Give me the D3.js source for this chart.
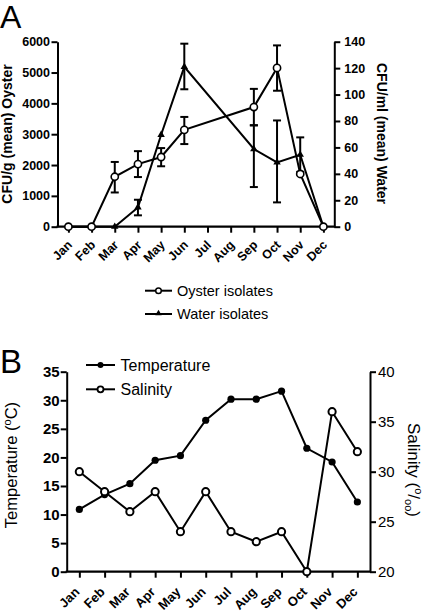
<!DOCTYPE html>
<html><head><meta charset="utf-8">
<script src="https://cdn.jsdelivr.net/npm/d3@7"></script>
<style>
body{margin:0;background:#fff}
svg{display:block}
text{font-family:"Liberation Sans",Arial,Helvetica,sans-serif;fill:#000}
</style>
</head><body>
<svg id="c" width="425" height="614"></svg>
<script>
// ---------- data ----------
const months = ["Jan","Feb","Mar","Apr","May","Jun","Jul","Aug","Sep","Oct","Nov","Dec"];
const sampleMonths = ["Jan","Feb","Mar","Apr","May","Jun","Sep","Oct","Nov","Dec"];
const oysterMean = [0,0,1620,2030,2260,3140,3880,5150,1710,0];
const oysterLow  = [null,null,1110,1610,1960,2680,3290,4410,null,null];
const oysterHigh = [null,null,2100,2450,2550,3560,4470,5880,null,null];
const waterMean  = [0,0,0,14.6,69.6,121,58.8,48.7,54.5,0];
const waterLow   = [null,null,null,8.6,null,104,30,18.4,41.5,null];
const waterHigh  = [null,null,null,20.4,null,138.5,76.7,80.4,67.6,null];
const oysterTicks = [0,1000,2000,3000,4000,5000,6000];
const waterTicks = [0,20,40,60,80,100,120,140];

const temperature = [10.9,13.5,15.4,19.5,20.3,26.5,30.2,30.2,31.6,21.6,19.2,12.2];
const salinity    = [30,28,26,28,24,28,24,23,24,20,36,32];
const tempTicks = [0,5,10,15,20,25,30,35];
const salTicks = [20,25,30,35,40];

const svg = d3.select("#c");

// ---------- Panel A ----------
const A = {l:57.5, r:334.3, t:41.7, b:226.7};
const xA = d3.scalePoint().domain(months).range([A.l, A.r]).padding(0.47);
const yO = d3.scaleLinear().domain([0,6000]).range([A.b, A.t]);
const yW = d3.scaleLinear().domain([0,140]).range([A.b, A.t]);

svg.append("text").attr("x",0).attr("y",28).attr("font-size",32).text("A");

function styleAxis(g, size, weight){
  g.selectAll("path.domain").attr("stroke","#000").attr("stroke-width",2);
  g.selectAll(".tick line").attr("stroke","#000").attr("stroke-width",2);
  g.selectAll(".tick text").attr("font-size",size).attr("font-weight",weight)
   .attr("font-family","'Liberation Sans',Arial,Helvetica,sans-serif").attr("fill","#000");
}

const gAL = svg.append("g").attr("transform",`translate(${A.l},0)`)
  .call(d3.axisLeft(yO).tickValues(oysterTicks).tickSize(6).tickSizeOuter(0).tickPadding(1.5).tickFormat(d3.format("d")));
styleAxis(gAL, 12.5, "bold");
const gAR = svg.append("g").attr("transform",`translate(${A.r},0)`)
  .call(d3.axisRight(yW).tickValues(waterTicks).tickSize(6).tickSizeOuter(0).tickPadding(4).tickFormat(d3.format("d")));
styleAxis(gAR, 12.5, "bold");

// x axis A
const gAX = svg.append("g").attr("transform",`translate(0,${A.b})`)
  .call(d3.axisBottom(xA).tickSize(6).tickSizeOuter(0).tickFormat(""));
gAX.select("path.domain").remove();
gAX.selectAll(".tick line").attr("stroke","#000").attr("stroke-width",2);
svg.append("line").attr("x1",A.l-1).attr("x2",A.r+1).attr("y1",A.b).attr("y2",A.b).attr("stroke","#000").attr("stroke-width",2.2);
svg.append("g").selectAll("text").data(months).join("text")
  .attr("transform",d=>`translate(${xA(d)+4.5},${A.b+19}) rotate(-45)`)
  .attr("text-anchor","end").attr("font-size",12.5).attr("font-weight","bold").text(d=>d);

// titles A
svg.append("text").attr("transform",`translate(12,134) rotate(-90)`).attr("text-anchor","middle")
  .attr("font-size",14).attr("font-weight","bold").text("CFU/g (mean) Oyster");
svg.append("text").attr("transform",`translate(377,133.5) rotate(90)`).attr("text-anchor","middle")
  .attr("font-size",14).attr("font-weight","bold").text("CFU/ml (mean) Water");

// error bars
function errBars(lows, highs, scale){
  const g = svg.append("g").attr("stroke","#000").attr("stroke-width",2);
  sampleMonths.forEach((m,i)=>{
    if(lows[i]==null) return;
    const x = xA(m);
    g.append("line").attr("x1",x).attr("x2",x).attr("y1",scale(lows[i])).attr("y2",scale(highs[i]));
    g.append("line").attr("x1",x-4).attr("x2",x+4).attr("y1",scale(lows[i])).attr("y2",scale(lows[i]));
    g.append("line").attr("x1",x-4).attr("x2",x+4).attr("y1",scale(highs[i])).attr("y2",scale(highs[i]));
  });
}
errBars(oysterLow, oysterHigh, yO);
errBars(waterLow, waterHigh, yW);

const oysterPts = sampleMonths.map((m,i)=>[xA(m), yO(oysterMean[i])]);
const waterPts = sampleMonths.map((m,i)=>[xA(m), yW(waterMean[i])]);
svg.append("path").attr("d",d3.line()(waterPts)).attr("fill","none").attr("stroke","#000").attr("stroke-width",2);
svg.append("path").attr("d",d3.line()(oysterPts)).attr("fill","none").attr("stroke","#000").attr("stroke-width",2);
svg.append("g").selectAll("path").data(waterPts).join("path")
  .attr("transform",d=>`translate(${d[0]},${d[1]})`).attr("d",d3.symbol(d3.symbolTriangle,24)()).attr("fill","#000");
svg.append("g").selectAll("circle").data(oysterPts).join("circle")
  .attr("cx",d=>d[0]).attr("cy",d=>d[1]).attr("r",3.6).attr("fill","#fff").attr("stroke","#000").attr("stroke-width",1.6);

// legend A
const lgA = svg.append("g");
lgA.append("line").attr("x1",145).attr("x2",172).attr("y1",290.7).attr("y2",290.7).attr("stroke","#000").attr("stroke-width",2);
lgA.append("circle").attr("cx",158.5).attr("cy",290.7).attr("r",2.8).attr("fill","#fff").attr("stroke","#000").attr("stroke-width",1.5);
lgA.append("text").attr("x",177).attr("y",296).attr("font-size",14.5).text("Oyster isolates");
lgA.append("line").attr("x1",145).attr("x2",172).attr("y1",314).attr("y2",314).attr("stroke","#000").attr("stroke-width",2);
lgA.append("path").attr("transform","translate(158.5,313.5)").attr("d",d3.symbol(d3.symbolTriangle,18)()).attr("fill","#000");
lgA.append("text").attr("x",177).attr("y",319.3).attr("font-size",14.5).text("Water isolates");

// ---------- Panel B ----------
const B = {l:66.7, r:370, t:371.7, b:571.7};
const xB = d3.scalePoint().domain(months).range([B.l, B.r]).padding(0.5);
const yT = d3.scaleLinear().domain([0,35]).range([B.b, B.t]);
const yS = d3.scaleLinear().domain([20,40]).range([B.b, B.t]);

svg.append("text").attr("x",0).attr("y",373.3).attr("font-size",33).text("B");

const gBL = svg.append("g").attr("transform",`translate(${B.l},0)`)
  .call(d3.axisLeft(yT).tickValues(tempTicks).tickSize(6).tickSizeOuter(0).tickPadding(1).tickFormat(d3.format("d")));
styleAxis(gBL, 15, "bold");
const gBR = svg.append("g").attr("transform",`translate(${B.r},0)`)
  .call(d3.axisRight(yS).tickValues(salTicks).tickSize(6).tickSizeOuter(0).tickPadding(2).tickFormat(d3.format("d")));
styleAxis(gBR, 15, "normal");

const gBX = svg.append("g").attr("transform",`translate(0,${B.b})`)
  .call(d3.axisBottom(xB).tickSize(6).tickSizeOuter(0).tickFormat(""));
gBX.select("path.domain").remove();
gBX.selectAll(".tick line").attr("stroke","#000").attr("stroke-width",2);
svg.append("line").attr("x1",B.l-1).attr("x2",B.r+1).attr("y1",B.b).attr("y2",B.b).attr("stroke","#000").attr("stroke-width",2.2);
svg.append("g").selectAll("text").data(months).join("text")
  .attr("transform",d=>`translate(${xB(d)+1},${B.b+21}) rotate(-45)`)
  .attr("text-anchor","end").attr("font-size",13).attr("font-weight","bold").text(d=>d);

// titles B
const tL = svg.append("text").attr("transform",`translate(17,465) rotate(-90)`).attr("text-anchor","middle")
  .attr("font-size",16.5);
tL.append("tspan").text("Temperature (");
tL.append("tspan").attr("font-size",11).attr("dy",-6).text("o");
tL.append("tspan").attr("dy",6).text("C)");
const tR = svg.append("text").attr("transform",`translate(408,470) rotate(90)`).attr("text-anchor","middle")
  .attr("font-size",17);
tR.append("tspan").text("Salinity (");
tR.append("tspan").attr("font-size",11).attr("dy",-7).text("o");
tR.append("tspan").attr("dy",7).text("/");
tR.append("tspan").attr("font-size",11).attr("dy",3).text("oo");
tR.append("tspan").attr("dy",-3).text(")");

const tempPts = months.map((m,i)=>[xB(m), yT(temperature[i])]);
const salPts = months.map((m,i)=>[xB(m), yS(salinity[i])]);
svg.append("path").attr("d",d3.line()(tempPts)).attr("fill","none").attr("stroke","#000").attr("stroke-width",2);
svg.append("path").attr("d",d3.line()(salPts)).attr("fill","none").attr("stroke","#000").attr("stroke-width",2);
svg.append("g").selectAll("circle").data(tempPts).join("circle")
  .attr("cx",d=>d[0]).attr("cy",d=>d[1]).attr("r",3.6).attr("fill","#000");
svg.append("g").selectAll("circle").data(salPts).join("circle")
  .attr("cx",d=>d[0]).attr("cy",d=>d[1]).attr("r",3.6).attr("fill","#fff").attr("stroke","#000").attr("stroke-width",2);

// legend B
const lgB = svg.append("g");
lgB.append("line").attr("x1",86).attr("x2",115).attr("y1",365).attr("y2",365).attr("stroke","#000").attr("stroke-width",2);
lgB.append("circle").attr("cx",100.5).attr("cy",365).attr("r",3).attr("fill","#000");
lgB.append("text").attr("x",120.5).attr("y",371).attr("font-size",16).text("Temperature");
lgB.append("line").attr("x1",86).attr("x2",115).attr("y1",389.3).attr("y2",389.3).attr("stroke","#000").attr("stroke-width",2);
lgB.append("circle").attr("cx",100.5).attr("cy",389.3).attr("r",3).attr("fill","#fff").attr("stroke","#000").attr("stroke-width",1.8);
lgB.append("text").attr("x",120.5).attr("y",395.3).attr("font-size",16).text("Salinity");
</script>
</body></html>
